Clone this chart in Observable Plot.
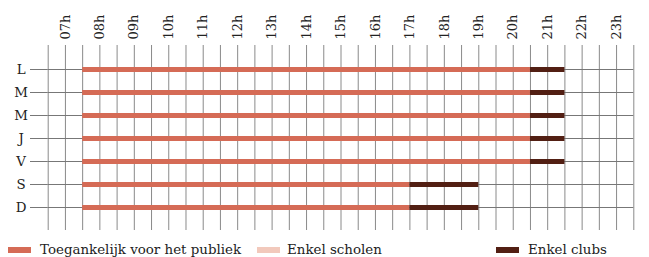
<!DOCTYPE html>
<html>
<head>
<meta charset="utf-8">
<script src="https://cdn.jsdelivr.net/npm/d3@7"></script>
<script src="https://cdn.jsdelivr.net/npm/@observablehq/plot@0.6"></script>
<style>
  html, body { margin: 0; padding: 0; background: #fff; }
  #wrap { width: 649px; position: relative; }
  #legend { position: relative; height: 22px; font-family: "DejaVu Serif", serif; font-size: 13.4px; color: #222; }
  .sw { position: absolute; height: 6px; width: 23px; top: 12px; }
  .lt { position: absolute; top: 7px; line-height: 16px; white-space: nowrap; }
</style>
</head>
<body>
<div id="wrap"></div>
<script>
// Days (rows)
const days = ["L", "M", "M", "J", "V", "S", "D"];
// Hour tick values and labels (top axis)
const hourTicks = [7, 8, 9, 10, 11, 12, 13, 14, 15, 16, 17, 18, 19, 20, 21, 22, 23];
const hourLabels = ["07h", "08h", "09h", "10h", "11h", "12h", "13h", "14h", "15h", "16h", "17h", "18h", "19h", "20h", "21h", "22h", "23h"];
// Opening segments per day (hours)
const publicStart = [7.5, 7.5, 7.5, 7.5, 7.5, 7.5, 7.5];
const publicEnd   = [20.5, 20.5, 20.5, 20.5, 20.5, 17, 17];
const clubsStart  = [20.5, 20.5, 20.5, 20.5, 20.5, 17, 17];
const clubsEnd    = [21.5, 21.5, 21.5, 21.5, 21.5, 19, 19];
// Legend
const legendLabels = ["Toegankelijk voor het publiek", "Enkel scholen", "Enkel clubs"];
const colors = ["#d56b56", "#f2c9bc", "#521f13"];

const rows = d3.range(days.length);
const grid = d3.range(6.5, 23.5 + 0.01, 0.5);
const segs = [];
rows.forEach(i => {
  segs.push({day: i, start: publicStart[i], end: publicEnd[i], type: legendLabels[0]});
  segs.push({day: i, start: clubsStart[i], end: clubsEnd[i], type: legendLabels[2]});
});

const chart = Plot.plot({
  width: 649,
  height: 235,
  marginLeft: 47.7,
  marginRight: 15.7,
  marginTop: 45,
  marginBottom: 5,
  style: {fontFamily: "'DejaVu Serif', serif", fontSize: "13px", color: "#222", background: "#fff"},
  x: {domain: [6.5, 23.5], axis: null},
  y: {type: "point", domain: rows, range: [69, 207.3], padding: 0, axis: null},
  color: {domain: legendLabels, range: colors},
  marks: [
    Plot.ruleX(grid, {x: d => d, stroke: "#8a8a8a"}),
    Plot.ruleY(rows, {y: d => d, stroke: "#777"}),
    Plot.axisY(rows, {anchor: "left", label: null, tickSize: 17.7, tickPadding: 9.4, textAnchor: "middle", tickFormat: i => days[i], stroke: "#777", fill: "#222", fontSize: 13.4}),
    Plot.axisX(hourTicks, {anchor: "top", label: null, tickSize: 0, tickPadding: 6, tickRotate: -90, textAnchor: "start", lineAnchor: "middle", tickFormat: d => hourLabels[hourTicks.indexOf(d)], fill: "#222", fontSize: 13}),
    Plot.ruleY(segs, {y: "day", x1: "start", x2: "end", stroke: "type", strokeWidth: 5})
  ]
});
document.getElementById("wrap").appendChild(chart);

const legend = document.createElement("div");
legend.id = "legend";
const swX = [8, 257, 496];
const txX = [40, 287, 528];
legendLabels.forEach((l, i) => {
  const s = document.createElement("div");
  s.className = "sw"; s.style.left = swX[i] + "px"; s.style.background = colors[i];
  const t = document.createElement("div");
  t.className = "lt"; t.style.left = txX[i] + "px"; t.textContent = l;
  legend.appendChild(s); legend.appendChild(t);
});
document.getElementById("wrap").appendChild(legend);
</script>
</body>
</html>
